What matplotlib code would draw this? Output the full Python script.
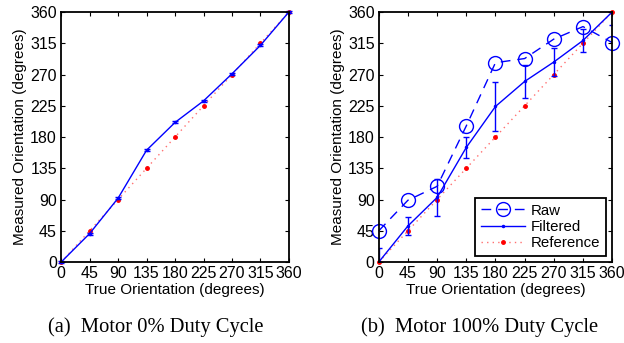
import numpy as np
import matplotlib
matplotlib.use("Agg")
import matplotlib.pyplot as plt

plt.rcParams['font.family'] = ['Liberation Sans', 'DejaVu Sans']

angles = [0, 45, 90, 135, 180, 225, 270, 315, 360]
reference = [0, 45, 90, 135, 180, 225, 270, 315, 360]

# (a) motor 0% duty cycle
filt_a = [0, 41, 92, 161, 201, 232, 271, 312, 360]
err_a = [1.5, 1.5, 1.5, 1.5, 1.5, 1.5, 1.5, 1.5, 1.5]

# (b) motor 100% duty cycle
raw_b = [45, 89, 109, 196, 287, 293, 321, 339, 316]
filt_b = [0, 52, 93, 165, 224, 260, 288, 319, 360]
err_b = [20, 13, 27, 15, 35, 24, 20, 17, 18]

ticks = np.arange(0, 361, 45)


def set_params(ax):
    ax.set_xlim(0, 360)
    ax.set_ylim(0, 360)
    ax.set_xticks(ticks)
    ax.set_yticks(ticks)
    ax.tick_params(direction='in', top=True, right=True, length=3,
                   labelsize=11.5, pad=3)
    for s in ax.spines.values():
        s.set_linewidth(1.3)
    ax.set_xlabel("True Orientation (degrees)", fontsize=11, labelpad=1)
    ax.set_ylabel("Measured Orientation (degrees)", fontsize=11, labelpad=2)


def plot_ref(ax):
    ax.plot(angles, reference, color='#ff7070', ls=(0, (1, 3)), lw=1, clip_on=False)
    ax.plot(angles, reference, ls='none', color='red', marker='.', markersize=5,
            clip_on=False)
    h, = ax.plot([], [], color='#ff7070', ls=(0, (1, 3)), lw=1, marker='.',
                 markersize=5, markerfacecolor='red', markeredgecolor='red')
    return h


fig = plt.figure(figsize=(6.24, 3.43), dpi=100)

ax = fig.add_axes([0.098, 0.236, 0.365, 0.729])
plot_ref(ax)
ax.errorbar(angles, filt_a, yerr=err_a, color='blue', lw=1, marker='.', markersize=3,
            capsize=2, elinewidth=1, clip_on=False)
set_params(ax)

ax = fig.add_axes([0.607, 0.236, 0.374, 0.729])
l_ref = plot_ref(ax)
ax.errorbar(angles, filt_b, yerr=err_b, color='blue', lw=1, marker='.', markersize=3,
            capsize=2.5, elinewidth=1)
l_raw, = ax.plot(angles, raw_b, '--', color='blue', marker='o', markersize=10,
                 markerfacecolor='none', dashes=(7, 5), lw=1, clip_on=False)
set_params(ax)
l_filt, = ax.plot([], [], color='blue', lw=1, marker='.', markersize=3)
leg = ax.legend([l_raw, l_filt, l_ref], ['Raw', 'Filtered', 'Reference'],
                loc='lower right', fontsize=10.8, numpoints=1, fancybox=False,
                framealpha=1, edgecolor='black', handlelength=2.9,
                borderaxespad=0.4, handletextpad=0.4, labelspacing=0.15)
leg.get_frame().set_linewidth(1.3)

fig.text(0.25, 0.047, "(a)  Motor 0% Duty Cycle", ha='center', va='center',
         fontsize=14.8, family='Liberation Serif')
fig.text(0.768, 0.047, "(b)  Motor 100% Duty Cycle", ha='center', va='center',
         fontsize=14.8, family='Liberation Serif')

fig.savefig('out.png', dpi=100)
